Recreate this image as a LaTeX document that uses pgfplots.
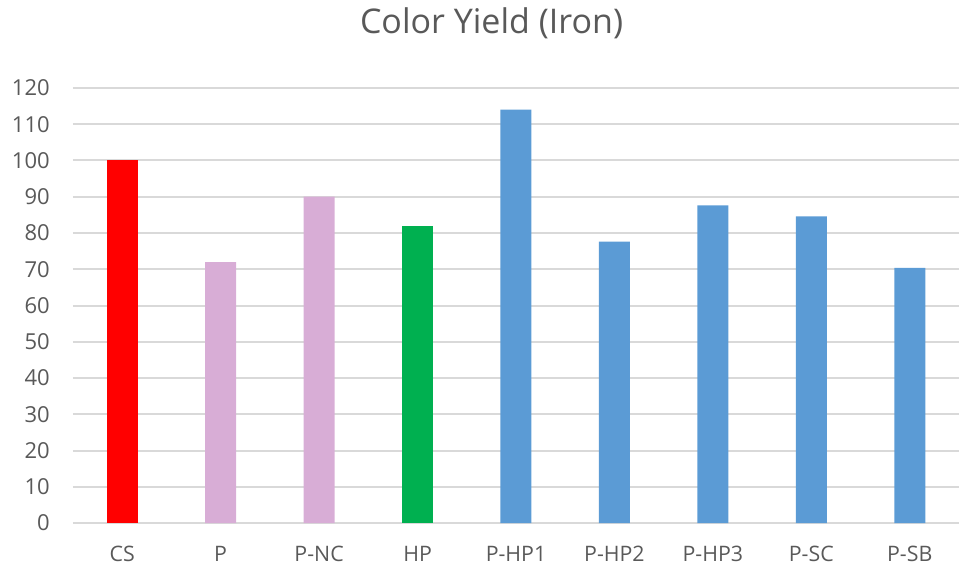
\documentclass[border=0pt]{standalone}
\usepackage{pgfplots}
\pgfplotsset{compat=1.18}
\usepackage{fontspec}
\setmainfont{Open Sans}
\definecolor{txtgray}{HTML}{595959}
\definecolor{gridgray}{HTML}{D9D9D9}
\definecolor{barred}{HTML}{FF0000}
\definecolor{barpink}{HTML}{D8ADD6}
\definecolor{bargreen}{HTML}{00B050}
\definecolor{barblue}{HTML}{5B9BD5}
\begin{document}
\begin{tikzpicture}
\useasboundingbox (-54.75pt,-31.5pt) rectangle (666pt,392.25pt);
\begin{axis}[
  scale only axis,
  width=664.5pt, height=326.25pt,
  at={(0,0)}, anchor=south west,
  xmin=-0.5, xmax=8.5,
  ymin=0, ymax=120,
  ytick={0,10,...,120},
  xtick={0,...,8},
  xticklabels={CS,P,P-NC,HP,P-HP1,P-HP2,P-HP3,P-SC,P-SB},
  ymajorgrids,
  grid style={gridgray, line width=1.5pt},
  axis line style={draw=none},
  major tick length=0pt,
  tick label style={font=\fontsize{16.5}{19}\selectfont, text=txtgray, inner sep=0pt},
  /pgf/number format/assume math mode=true,
  yticklabel style={anchor=east, xshift=-17.25pt},
  xticklabel style={anchor=base, text depth=0pt, yshift=-28.5pt, font=\fontsize{16}{19}\selectfont},
  title={Color Yield (Iron)},
  title style={font=\fontsize{25.5}{30}\selectfont, text=txtgray, inner sep=0pt, at={(0.4724,1)}, anchor=base, yshift=34.5pt},
  ybar, bar width=23.25pt, bar shift=0pt,
]
\addplot[fill=barred, draw=none] coordinates {(0,100)};
\addplot[fill=barpink, draw=none] coordinates {(1,72) (2,90)};
\addplot[fill=bargreen, draw=none] coordinates {(3,82)};
\addplot[fill=barblue, draw=none] coordinates {(4,114) (5,77.6) (6,87.6) (7,84.6) (8,70.4)};
\end{axis}
\end{tikzpicture}
\end{document}
